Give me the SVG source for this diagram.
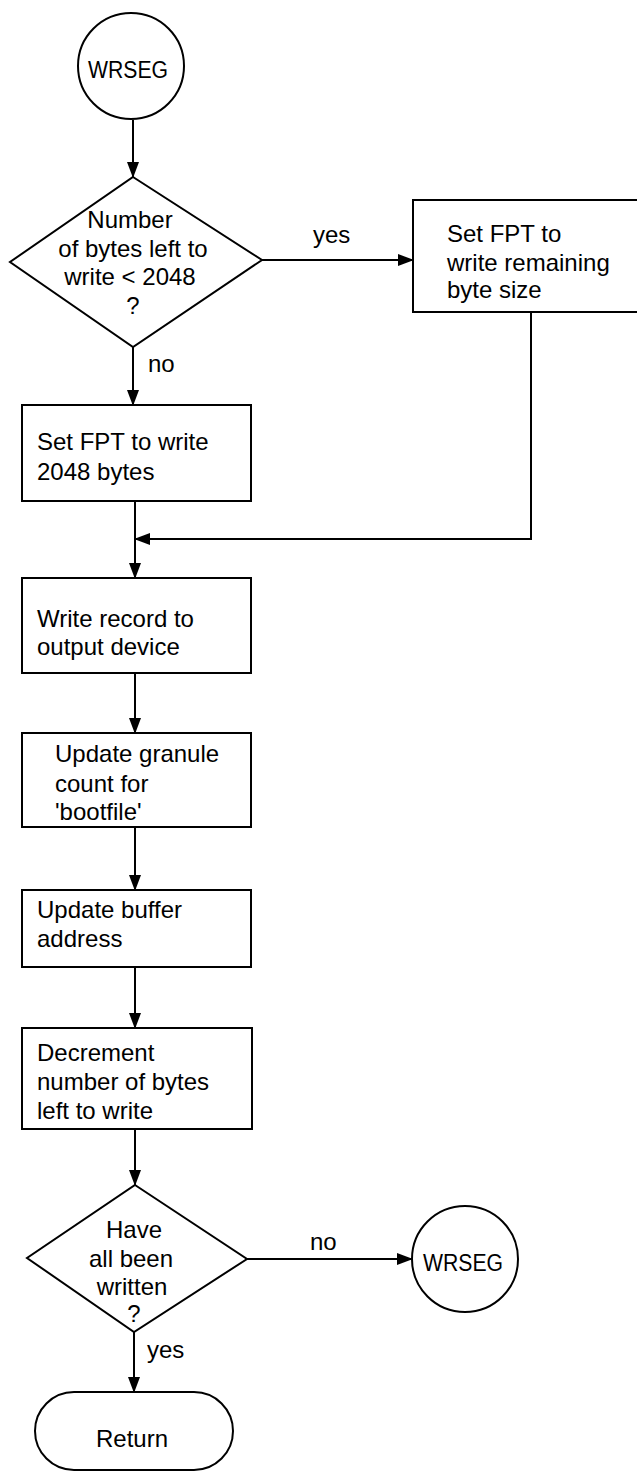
<svg xmlns="http://www.w3.org/2000/svg" width="637" height="1474" viewBox="0 0 637 1474">
<style>
.s{fill:#fff;stroke:#000;stroke-width:2}
.c{fill:none;stroke:#000;stroke-width:2}
text{font-family:"Liberation Sans",Arial,sans-serif;font-size:24px;fill:#000}
.m{text-anchor:middle}
.t{font-size:23px}
</style>
<defs>
<marker id="a" markerWidth="16" markerHeight="12" refX="15" refY="6" orient="auto" markerUnits="userSpaceOnUse">
<path d="M0,0 L16,6 L0,12 z" fill="#000"/>
</marker>
</defs>
<g id="connectors">
<path class="c" d="M133,120 L133,177" marker-end="url(#a)"/>
<path class="c" d="M262,260 L413,260" marker-end="url(#a)"/>
<path class="c" d="M133,347 L133,405" marker-end="url(#a)"/>
<path class="c" d="M135,501 L135,578" marker-end="url(#a)"/>
<path class="c" d="M531,312 L531,539 L135,539" marker-end="url(#a)"/>
<path class="c" d="M135,673 L135,733" marker-end="url(#a)"/>
<path class="c" d="M135,827 L135,890" marker-end="url(#a)"/>
<path class="c" d="M135,967 L135,1028" marker-end="url(#a)"/>
<path class="c" d="M135,1129 L135,1185" marker-end="url(#a)"/>
<path class="c" d="M247,1259 L412,1259" marker-end="url(#a)"/>
<path class="c" d="M134,1332 L134,1392" marker-end="url(#a)"/>
<text x="313" y="243">yes</text>
<text x="148" y="372">no</text>
<text x="310" y="1250">no</text>
<text x="147" y="1358">yes</text>
</g>
<g id="start">
<circle class="s" cx="131" cy="66" r="53"/>
<text class="m t" x="128" y="78" textLength="80" lengthAdjust="spacingAndGlyphs">WRSEG</text>
</g>
<g id="decision1">
<polygon class="s" points="133,177 262,260 133,347 10,262"/>
<text class="m" x="130" y="228">Number</text>
<text class="m" x="133" y="257">of bytes left to</text>
<text class="m" x="130" y="285">write &lt; 2048</text>
<text class="m" x="133" y="314">?</text>
</g>
<g id="setRemaining">
<rect class="s" x="413" y="200" width="230" height="112"/>
<text x="447" y="242">Set FPT to</text>
<text x="447" y="271">write remaining</text>
<text x="447" y="298">byte size</text>
</g>
<g id="set2048">
<rect class="s" x="22" y="405" width="229" height="96"/>
<text x="37" y="450">Set FPT to write</text>
<text x="37" y="480">2048 bytes</text>
</g>
<g id="writeRecord">
<rect class="s" x="22" y="578" width="229" height="95"/>
<text x="37" y="627">Write record to</text>
<text x="37" y="655">output device</text>
</g>
<g id="updateGranule">
<rect class="s" x="22" y="733" width="229" height="94"/>
<text x="55" y="762">Update granule</text>
<text x="55" y="792">count for</text>
<text x="55" y="820">'bootfile'</text>
</g>
<g id="updateBuffer">
<rect class="s" x="22" y="890" width="229" height="77"/>
<text x="37" y="918">Update buffer</text>
<text x="37" y="947">address</text>
</g>
<g id="decrement">
<rect class="s" x="22" y="1028" width="230" height="101"/>
<text x="37" y="1061">Decrement</text>
<text x="37" y="1090">number of bytes</text>
<text x="37" y="1119">left to write</text>
</g>
<g id="decision2">
<polygon class="s" points="135,1185 247,1259 134,1332 27,1258"/>
<text class="m" x="134" y="1238">Have</text>
<text class="m" x="131" y="1267">all been</text>
<text class="m" x="132" y="1295">written</text>
<text class="m" x="134" y="1322">?</text>
</g>
<g id="wrseg2">
<circle class="s" cx="465" cy="1259" r="53"/>
<text class="m t" x="463" y="1271" textLength="80" lengthAdjust="spacingAndGlyphs">WRSEG</text>
</g>
<g id="return">
<rect class="s" x="35" y="1392" width="198" height="78" rx="39" ry="39"/>
<text class="m" x="132" y="1447">Return</text>
</g>
</svg>
